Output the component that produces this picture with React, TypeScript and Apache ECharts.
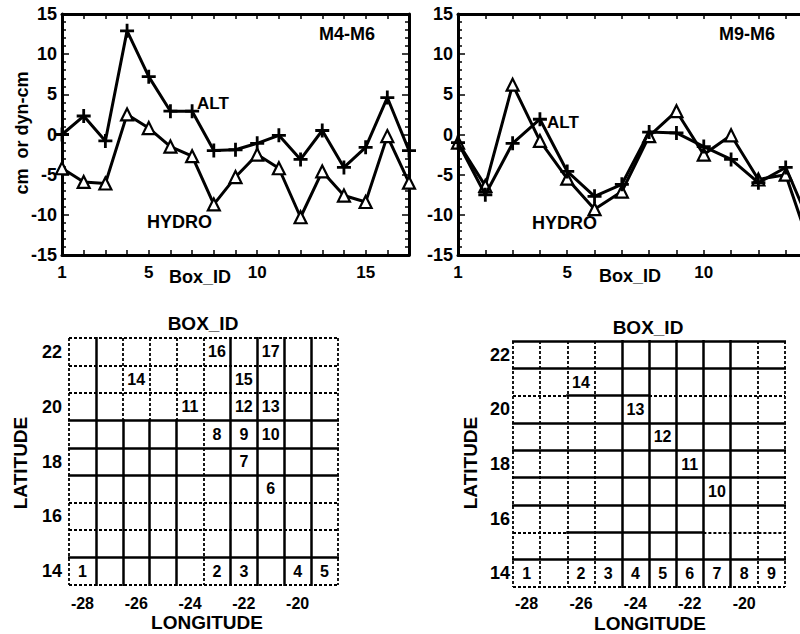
import React, { useEffect, useRef } from "react";
import * as echarts from "echarts";

// ---- Top panels: difference per box (cm or dyn-cm) ----
const BOX_IDS_M4 = [1, 2, 3, 4, 5, 6, 7, 8, 9, 10, 11, 12, 13, 14, 15, 16, 17];
const ALT_M4 = [0, 2.3, -0.8, 12.9, 7.2, 2.9, 2.9, -2.0, -1.9, -1.1, -0.1, -3.1, 0.5, -4.1, -1.6, 4.6, -2.0];
const HYDRO_M4 = [-4.2, -5.9, -6.1, 2.5, 0.8, -1.5, -2.7, -8.7, -5.3, -2.5, -4.2, -10.3, -4.6, -7.6, -8.4, -0.2, -6.0];

const BOX_IDS_M9 = [1, 2, 3, 4, 5, 6, 7, 8, 9, 10, 11, 12, 13, 14];
const ALT_M9 = [-1.0, -7.5, -1.1, 1.9, -4.6, -7.7, -6.2, 0.3, 0.2, -1.5, -3.1, -6.0, -4.1, -12.0];
const HYDRO_M9 = [-1.0, -6.4, 6.2, -0.8, -5.5, -9.3, -7.1, -0.2, 2.9, -2.5, -0.1, -5.6, -5.0, -15.0];

const X_LABELS_M4 = [1, 5, 10, 15];
const X_LABELS_M9 = [1, 5, 10];

// ---- Bottom panels: box maps ----
const LON_LABELS = [-28, -26, -24, -22, -20];
const LAT_LABELS = [14, 16, 18, 20, 22];
const LON_EDGES = [-28.5, -27.5, -26.5, -25.5, -24.5, -23.5, -22.5, -21.5, -20.5, -19.5, -18.5];
const LAT_EDGES = [22.5, 21.5, 20.5, 19.5, 18.5, 17.5, 16.5, 15.5, 14.5, 13.5];

const MAP1_IDS = [1, 2, 3, 4, 5, 6, 7, 8, 9, 10, 11, 12, 13, 14, 15, 16, 17];
const MAP1_LON = [-28, -23, -22, -20, -19, -21, -22, -23, -22, -21, -24, -22, -21, -26, -22, -23, -21];
const MAP1_LAT = [14, 14, 14, 14, 14, 17, 18, 19, 19, 19, 20, 20, 20, 21, 21, 22, 22];

const MAP2_IDS = [1, 2, 3, 4, 5, 6, 7, 8, 9, 10, 11, 12, 13, 14];
const MAP2_LON = [-28, -26, -25, -24, -23, -22, -21, -20, -19, -21, -22, -23, -24, -26];
const MAP2_LAT = [14, 14, 14, 14, 14, 14, 14, 14, 14, 17, 18, 19, 20, 21];

// cell-edge styles: s = solid, d = dotted (verticals: top->bottom, horizontals: left->right)
const MAP1_V = ["ddddddddd", "sssssssss", "dddssssss", "dddssssss", "dddssssss", "ddddddddd", "sssssssss", "sssssssss", "sssssssss", "sssssssss", "ddddddddd"];
const MAP1_H = ["dddddddddd", "dddddddddd", "dddddddddd", "ssssssssss", "ssssssssss", "ssssssssss", "dddddddddd", "dddddddddd", "ssssssssss", "dddddddddd"];
const MAP2_V = ["ddddddddd", "ddddddddd", "ddddddddd", "ddddddddd", "sssssssss", "sssssssss", "sssssssss", "sssssssss", "sssssssss", "ddddddddd", "ddddddddd"];
const MAP2_H = ["ssssssssss", "ssssssssss", "ddsssddddd", "ssssssssss", "ssssssssss", "ssssssssss", "ssssssssss", "ddsssssddd", "ssssssssss", "dddddddddd"];

const FONT = '"Liberation Sans", Arial, Helvetica, sans-serif';
const PLUS = "path://M-1.2,-6 L1.2,-6 L1.2,-1.2 L6,-1.2 L6,1.2 L1.2,1.2 L1.2,6 L-1.2,6 L-1.2,1.2 L-6,1.2 L-6,-1.2 L-1.2,-1.2 Z";

function segStyle(c: string) {
  return c === "s"
    ? { type: "solid", width: 2.5, color: "#000", opacity: 1, cap: "square" }
    : { type: [3, 2], width: 1.8, color: "#000", opacity: 1 };
}

function gridSegments(vStyles: string[], hStyles: string[]) {
  const out: any[] = [];
  vStyles.forEach((s, i) => {
    const x = LON_EDGES[i];
    let start = 0;
    for (let k = 1; k <= s.length; k++) {
      if (k === s.length || s[k] !== s[start]) {
        out.push({ coords: [[x, LAT_EDGES[start]], [x, LAT_EDGES[k]]], lineStyle: segStyle(s[start]) });
        start = k;
      }
    }
  });
  hStyles.forEach((s, j) => {
    const y = LAT_EDGES[j];
    let start = 0;
    for (let k = 1; k <= s.length; k++) {
      if (k === s.length || s[k] !== s[start]) {
        out.push({ coords: [[LON_EDGES[start], y], [LON_EDGES[k], y]], lineStyle: segStyle(s[start]) });
        start = k;
      }
    }
  });
  return out;
}

const bold = (size: number) => ({ fontSize: size, fontWeight: "bold", fontFamily: FONT, color: "#000" });

function lineXAxes(grid: number, max: number, labels: number[]) {
  const common = {
    gridIndex: grid,
    type: "value",
    min: 1,
    max,
    interval: 1,
    axisLine: { show: true, onZero: false, lineStyle: { color: "#000", width: 3 } },
    axisTick: { show: true, inside: true, length: 5, lineStyle: { color: "#000", width: 1.5 } },
    splitLine: { show: false },
  };
  return [
    {
      ...common,
      position: "bottom",
      axisLabel: {
        ...bold(17),
        margin: 9,
        formatter: (v: number) => (labels.includes(v) ? String(v) : ""),
      },
    },
    { ...common, position: "top", axisLabel: { show: false } },
  ];
}

function lineYAxes(grid: number) {
  const common = {
    gridIndex: grid,
    type: "value",
    min: -15,
    max: 15,
    interval: 5,
    axisLine: { show: true, onZero: false, lineStyle: { color: "#000", width: 3 } },
    axisTick: { show: true, inside: true, length: 7, lineStyle: { color: "#000", width: 1.5 } },
    minorTick: { show: true, splitNumber: 5, length: 4, lineStyle: { color: "#000", width: 1.5 } },
    splitLine: { show: false },
    minorSplitLine: { show: false },
  };
  return [
    { ...common, position: "left", axisLabel: { ...bold(18), margin: 5 } },
    { ...common, position: "right", axisLabel: { show: false } },
  ];
}

function mapAxes(grid: number, lonMargin: number, latMargin: number) {
  const x = {
    gridIndex: grid,
    type: "value",
    min: -28.5,
    max: -18.5,
    interval: 0.5,
    axisLine: { show: false },
    axisTick: { show: false },
    splitLine: { show: false },
    axisLabel: {
      ...bold(16),
      margin: lonMargin,
      formatter: (v: number) => (LON_LABELS.includes(v) ? String(v) : ""),
    },
  };
  const y = {
    gridIndex: grid,
    type: "value",
    min: 13.5,
    max: 22.5,
    interval: 0.5,
    axisLine: { show: false },
    axisTick: { show: false },
    splitLine: { show: false },
    axisLabel: {
      ...bold(18),
      margin: latMargin,
      formatter: (v: number) => (LAT_LABELS.includes(v) ? String(v) : ""),
    },
  };
  return { x, y };
}

function lineSeries(axisIdx: number, ids: number[], alt: number[], hydro: number[]) {
  return [
    {
      type: "line",
      name: "HYDRO",
      xAxisIndex: axisIdx,
      yAxisIndex: axisIdx,
      data: ids.map((b, i) => [b, hydro[i]]),
      symbol: "triangle",
      symbolSize: 12,
      itemStyle: { color: "#fff", borderColor: "#000", borderWidth: 2.2 },
      lineStyle: { color: "#000", width: 3 },
      z: 3,
    },
    {
      type: "line",
      name: "ALT",
      xAxisIndex: axisIdx,
      yAxisIndex: axisIdx,
      data: ids.map((b, i) => [b, alt[i]]),
      symbol: PLUS,
      symbolSize: 14,
      itemStyle: { color: "#000" },
      lineStyle: { color: "#000", width: 3 },
      z: 4,
    },
  ];
}

function labelSeries(axisIdx: number, ids: number[], lon: number[], lat: number[]) {
  return {
    type: "scatter",
    xAxisIndex: axisIdx,
    yAxisIndex: axisIdx,
    data: ids.map((id, i) => [lon[i], lat[i], id]),
    symbolSize: 0.5,
    itemStyle: { color: "#000", opacity: 1 },
    label: {
      show: true,
      position: "inside",
      ...bold(16),
      opacity: 1,
      textBorderWidth: 0,
      formatter: (p: any) => String(p.value[2]),
    },
    emphasis: { disabled: true },
    z: 5,
  };
}

function txt(text: string, x: number, y: number, size: number, align = "center", rotation = 0) {
  return {
    type: "text",
    x,
    y,
    rotation,
    style: {
      text,
      fill: "#000",
      fontSize: size,
      fontWeight: "bold",
      fontFamily: FONT,
      align,
      verticalAlign: "middle",
    },
  };
}

export default function App() {
  const ref = useRef<HTMLDivElement>(null);

  useEffect(() => {
    if (!ref.current) return;
    const chart = echarts.init(ref.current, null, { renderer: "svg" });
    const [xa0, xa1] = lineXAxes(0, 17, X_LABELS_M4);
    const [xa2, xa3] = lineXAxes(1, 14, X_LABELS_M9);
    const [ya0, ya1] = lineYAxes(0);
    const [ya2, ya3] = lineYAxes(1);
    const m1 = mapAxes(2, 10, 7);
    const m2 = mapAxes(3, 8, 3);

    chart.setOption({
      animation: false,
      backgroundColor: "#fff",
      grid: [
        { left: 62, top: 14, width: 347, height: 241 },
        { left: 458, top: 14, width: 355, height: 241 },
        { left: 69, top: 338, width: 269, height: 247 },
        { left: 513, top: 341, width: 272, height: 246 },
      ],
      xAxis: [xa0, xa1, xa2, xa3, m1.x, m2.x],
      yAxis: [ya0, ya1, ya2, ya3, m1.y, m2.y],
      series: [
        ...lineSeries(0, BOX_IDS_M4, ALT_M4, HYDRO_M4),
        ...lineSeries(2, BOX_IDS_M9, ALT_M9, HYDRO_M9),
        {
          type: "lines",
          coordinateSystem: "cartesian2d",
          xAxisIndex: 4,
          yAxisIndex: 4,
          data: gridSegments(MAP1_V, MAP1_H),
          lineStyle: { color: "#000", opacity: 1, width: 2, curveness: 0 },
          silent: true,
          z: 1,
        },
        {
          type: "lines",
          coordinateSystem: "cartesian2d",
          xAxisIndex: 5,
          yAxisIndex: 5,
          data: gridSegments(MAP2_V, MAP2_H),
          lineStyle: { color: "#000", opacity: 1, width: 2, curveness: 0 },
          silent: true,
          z: 1,
        },
        labelSeries(4, MAP1_IDS, MAP1_LON, MAP1_LAT),
        labelSeries(5, MAP2_IDS, MAP2_LON, MAP2_LAT),
      ],
      graphic: [
        txt("cm  or dyn-cm", 22, 133, 18, "center", Math.PI / 2),
        txt("M4-M6", 347, 34, 18),
        txt("M9-M6", 747, 34, 18),
        txt("ALT", 197, 103, 17, "left"),
        txt("HYDRO", 147, 222, 18, "left"),
        txt("ALT", 547, 122, 17, "left"),
        txt("HYDRO", 532, 223, 18, "left"),
        txt("Box_ID", 200, 277, 18),
        txt("Box_ID", 630, 276, 18),
        txt("BOX_ID", 203, 323, 19),
        txt("BOX_ID", 648, 327, 19),
        txt("LATITUDE", 20, 463, 19, "center", Math.PI / 2),
        txt("LATITUDE", 470, 463, 19, "center", Math.PI / 2),
        txt("LONGITUDE", 207, 622, 19),
        txt("LONGITUDE", 650, 623, 19),
      ],
    });
    return () => chart.dispose();
  }, []);

  return (
    <div style={{ position: "fixed", left: 0, top: 0, width: 800, height: 634, overflow: "hidden", background: "#fff" }}>
      <div ref={ref} style={{ width: 830, height: 634 }} />
    </div>
  );
}
